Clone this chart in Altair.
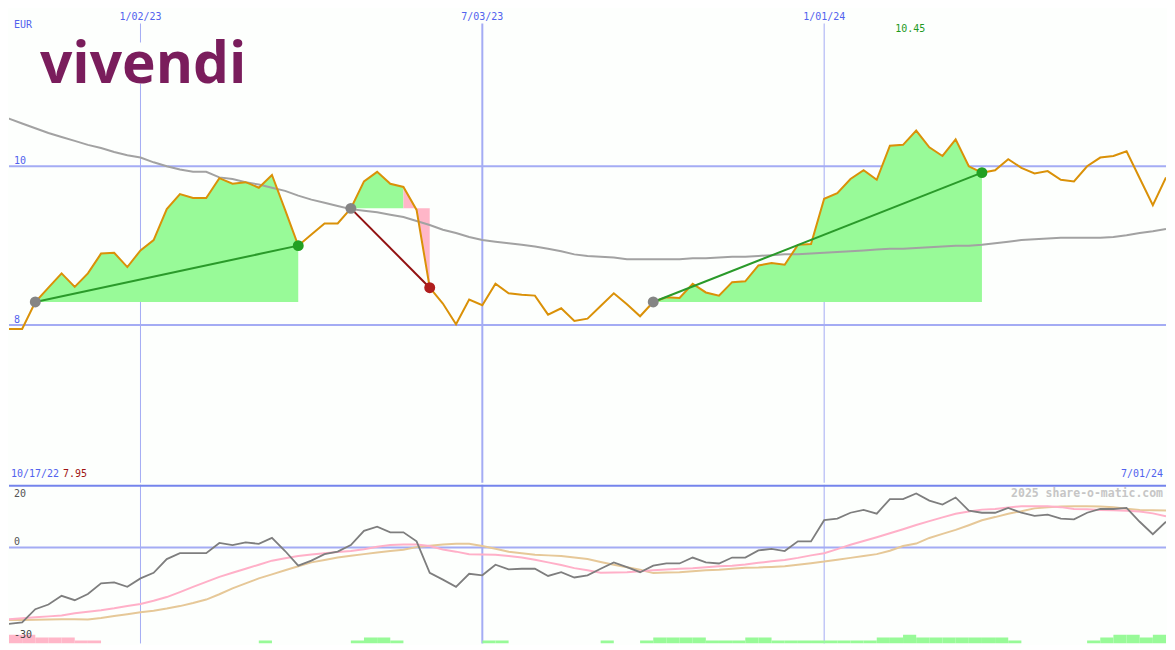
import altair as alt
import pandas as pd

W, H1, H2 = 1159, 475, 159
BG = "#FDFFFD"
GRID = "#A4ACF4"
SEP = "#7484EC"
BLUE = "#5262EE"
MONO = "DejaVu Sans Mono"

# weekly closes, week of 10/17/22 .. week of 7/01/24
week_dates = [d.strftime("%Y-%m-%d") for d in pd.date_range("2022-10-17", periods=90, freq="7D")]
week_ends = [d.strftime("%Y-%m-%d") for d in pd.date_range("2022-10-24", periods=90, freq="7D")]

price = [
    7.95, 7.95, 7.95, 8.29, 8.47, 8.65, 8.48, 8.65, 8.90, 8.91,
    8.73, 8.94, 9.07, 9.46, 9.65, 9.60, 9.60, 9.85, 9.78, 9.80,
    9.73, 9.89, 9.45, 9.00, 9.14, 9.28, 9.28, 9.47, 9.81, 9.93,
    9.78, 9.74, 9.45, 8.47, 8.27, 8.01, 8.32, 8.25, 8.52, 8.40,
    8.38, 8.37, 8.13, 8.21, 8.05, 8.08, 8.24, 8.40, 8.26, 8.11,
    8.29, 8.35, 8.34, 8.52, 8.41, 8.37, 8.54, 8.55, 8.75, 8.78,
    8.76, 9.01, 9.02, 9.59, 9.66, 9.84, 9.95, 9.83, 10.26, 10.27,
    10.45, 10.24, 10.13, 10.34, 10.00, 9.92, 9.95, 10.09, 9.98, 9.91,
    9.94, 9.83, 9.81, 10.00, 10.11, 10.13, 10.19, 9.85, 9.51, 9.86,
]

slow_ma = [
    10.66, 10.60, 10.54, 10.48, 10.42, 10.37, 10.32, 10.27, 10.23, 10.18,
    10.14, 10.11, 10.05, 10.00, 9.96, 9.93, 9.93, 9.86, 9.84, 9.80,
    9.77, 9.73, 9.69, 9.63, 9.58, 9.54, 9.50, 9.46, 9.44, 9.42,
    9.39, 9.36, 9.31, 9.26, 9.20, 9.16, 9.11, 9.07, 9.05, 9.03,
    9.01, 8.99, 8.96, 8.93, 8.89, 8.87, 8.86, 8.85, 8.83, 8.83,
    8.83, 8.83, 8.83, 8.84, 8.84, 8.85, 8.86, 8.86, 8.87, 8.88,
    8.89, 8.89, 8.90, 8.91, 8.92, 8.93, 8.94, 8.95, 8.96, 8.96,
    8.97, 8.98, 8.99, 9.00, 9.00, 9.01, 9.03, 9.05, 9.07, 9.08,
    9.09, 9.10, 9.10, 9.10, 9.10, 9.11, 9.13, 9.16, 9.18, 9.21,
]

osc_gray = [
    -25.0, -24.5, -24.0, -19.8, -18.3, -15.5, -16.9, -14.9, -11.5, -11.2,
    -12.6, -9.9, -8.1, -3.7, -1.8, -1.8, -1.8, 1.5, 0.8, 1.7,
    1.2, 3.1, -1.1, -5.8, -4.2, -2.1, -1.3, 0.8, 5.4, 6.7,
    4.9, 4.9, 2.0, -8.1, -10.3, -12.6, -8.4, -8.9, -5.5, -7.0,
    -6.8, -6.8, -9.1, -7.9, -9.6, -8.9, -6.8, -4.75, -6.3, -7.9,
    -5.8, -5.1, -5.1, -3.2, -4.75, -5.1, -3.2, -3.2, -0.9, -0.4,
    -1.1, 2.0, 2.0, 8.8, 9.3, 11.2, 12.1, 10.9, 15.6, 15.6,
    17.4, 15.1, 13.8, 16.1, 11.9, 11.2, 11.2, 12.75, 11.2, 10.2,
    10.6, 9.3, 9.1, 11.2, 12.4, 12.4, 12.75, 8.3, 4.3, 8.3,
]

osc_pink = [
    -23.2, -23.0, -22.7, -22.4, -22.1, -21.8, -21.1, -20.6, -20.1, -19.5,
    -18.8, -18.1, -17.1, -15.9, -14.3, -12.6, -11.0, -9.4, -8.1, -6.8,
    -5.5, -4.2, -3.4, -2.7, -2.2, -1.8, -1.4, -1.1, -0.5, 0.3,
    0.8, 1.0, 1.0, 0.5, -0.6, -1.3, -2.1, -2.2, -2.3, -2.7,
    -3.2, -3.9, -4.75, -5.6, -6.6, -7.3, -8.1, -8.0, -7.9, -7.6,
    -7.3, -7.0, -6.8, -6.6, -6.3, -6.0, -5.8, -5.4, -4.9, -4.4,
    -4.0, -3.3, -2.5, -1.8, -0.5, 0.9, 2.1, 3.3, 4.6, 5.9,
    7.25, 8.5, 9.7, 10.9, 11.6, 12.2, 12.4, 12.9, 13.3, 13.3,
    13.3, 13.0, 12.4, 12.3, 12.1, 12.0, 11.8, 11.6, 11.0, 10.1,
]

osc_tan = [
    -23.4, -23.3, -23.3, -23.2, -23.1, -23.0, -23.0, -23.1, -22.6, -22.0,
    -21.4, -20.8, -20.3, -19.6, -18.8, -17.8, -16.7, -15.0, -13.1, -11.5,
    -9.9, -8.6, -7.3, -6.0, -4.75, -4.0, -3.2, -2.6, -2.1, -1.6,
    -1.1, -0.7, 0.15, 0.6, 1.0, 1.2, 1.2, 0.5, -0.4, -1.3,
    -1.8, -2.3, -2.5, -2.7, -3.2, -3.7, -4.6, -5.5, -6.3, -7.1,
    -8.2, -8.0, -7.9, -7.6, -7.3, -7.1, -6.8, -6.5, -6.4, -6.2,
    -6.0, -5.5, -5.0, -4.5, -3.9, -3.3, -2.7, -2.1, -1.0, 0.5,
    1.3, 3.1, 4.4, 5.7, 7.2, 8.8, 9.8, 10.9, 11.7, 12.6,
    13.0, 13.2, 13.3, 13.3, 13.2, 13.0, 12.5, 12.1, 12.0, 11.9,
]

hist = [
    -3, -3, -3, -2, -2, -2, -1, -1, 0, 0,
    0, 0, 0, 0, 0, 0, 0, 0, 0, 0,
    1, 0, 0, 0, 0, 0, 0, 1, 2, 2,
    1, 0, 0, 0, 0, 0, 0, 1, 1, 0,
    0, 0, 0, 0, 0, 0, 1, 0, 0, 1,
    2, 2, 2, 2, 1, 1, 1, 2, 2, 1,
    1, 1, 1, 1, 1, 1, 1, 2, 2, 3,
    2, 2, 2, 2, 2, 2, 2, 1, 0, 0,
    0, 0, 0, 1, 2, 3, 3, 2, 3, 3,
]

# trades: indices into week_dates
trades = [
    {"entry": 3, "exit": 23, "result": "win"},
    {"entry": 27, "exit": 33, "result": "loss"},
    {"entry": 50, "exit": 75, "result": "win"},
]
# shaded segments: (from, to, colour, index of entry week)
fill_segments = [
    (3, 23, "#98FA98", 3),
    (27, 31, "#98FA98", 27),
    (31, 33, "#FFB6C8", 27),
    (50, 75, "#98FA98", 50),
]

grid_dates = ["2023-01-02", "2023-07-03", "2024-01-01"]
grid_labels = ["1/02/23", "7/03/23", "1/01/24"]
grid_widths = [1, 2, 1]
price_levels = [10, 8]
high_label = "10.45"
high_index = 70
start_label = "10/17/22"
low_label = "7.95"
end_label = "7/01/24"
osc_labels = ["20", "0", "-30"]
watermark = "2025 share-o-matic.com"

assert all(len(a) == 90 for a in [price, slow_ma, osc_gray, osc_pink, osc_tan, hist])

x_domain = [pd.Timestamp("2022-10-24").value // 10**6, pd.Timestamp("2024-07-01").value // 10**6]
xscale = alt.Scale(domain=x_domain, nice=False)
pscale = alt.Scale(domain=[6.012, 11.988], zero=False, nice=False)
oscale = alt.Scale(domain=[-30.8, 20.2], zero=False, nice=False)
hscale = alt.Scale(domain=[0, 54.33], zero=False, nice=False)

X = alt.X("date:T", scale=xscale, axis=None)
Yp = alt.Y("price:Q", scale=pscale, axis=None, stack=None)

price_df = pd.DataFrame({"date": week_dates, "price": price, "ma": slow_ma})
vgrid_df = pd.DataFrame({"date": grid_dates, "label": grid_labels, "w": grid_widths})
hgrid_df = pd.DataFrame({"price": price_levels, "label": [str(v) for v in price_levels]})

rows = []
for seg_id, (i0, i1, fillc, base_i) in enumerate(fill_segments):
    for i in range(i0, i1 + 1):
        rows.append({"date": week_dates[i], "price": price[i], "base": price[base_i],
                     "seg": seg_id, "fillc": fillc})
fill_df = pd.DataFrame(rows)

line_col = {"win": "#2A9A2A", "loss": "#921212"}
dot_col = {"win": "#22A022", "loss": "#B01E1E"}
tl_rows, dot_rows = [], []
for t_id, t in enumerate(trades):
    for i in (t["entry"], t["exit"]):
        tl_rows.append({"date": week_dates[i], "price": price[i], "trade": t_id, "lc": line_col[t["result"]]})
    dot_rows.append({"date": week_dates[t["entry"]], "price": price[t["entry"]], "dc": "#858585"})
    dot_rows.append({"date": week_dates[t["exit"]], "price": price[t["exit"]], "dc": dot_col[t["result"]]})
tl_df = pd.DataFrame(tl_rows)
dot_df = pd.DataFrame(dot_rows)


def txt(s):
    return pd.DataFrame({"t": [s]})


vrule_top = alt.Chart(vgrid_df).mark_rule(color=GRID).encode(
    x=X, y=alt.value(15), y2=alt.value(H1), strokeWidth=alt.StrokeWidth("w:Q", scale=None))
hrule_top = alt.Chart(hgrid_df).mark_rule(color=GRID, strokeWidth=2).encode(
    y=Yp, x=alt.value(0), x2=alt.value(W))
logo_box = alt.Chart(pd.DataFrame({"x0": ["2022-11-10"], "x1": ["2023-02-24"],
                                   "y0": [11.04], "y1": [11.56]})).mark_rect(color=BG).encode(
    x=alt.X("x0:T", scale=xscale, axis=None), x2="x1:T",
    y=alt.Y("y0:Q", scale=pscale, axis=None), y2="y1:Q")
fills = alt.Chart(fill_df).mark_area(opacity=1, clip=True).encode(
    x=X, y=Yp, y2="base:Q", detail="seg:N", color=alt.Color("fillc:N", scale=None))
ma_line = alt.Chart(price_df).mark_line(color="#A2A2A2", strokeWidth=2, clip=True).encode(
    x=X, y=alt.Y("ma:Q", scale=pscale, axis=None))
price_line = alt.Chart(price_df).mark_line(color="#DA9108", strokeWidth=2, clip=True).encode(x=X, y=Yp)
trade_lines = alt.Chart(tl_df).mark_line(strokeWidth=2).encode(
    x=X, y=Yp, detail="trade:N", color=alt.Color("lc:N", scale=None))
dots = alt.Chart(dot_df).mark_circle(size=120, opacity=1).encode(
    x=X, y=Yp, color=alt.Color("dc:N", scale=None))

date_text = alt.Chart(vgrid_df).mark_text(font=MONO, fontSize=10, color=BLUE).encode(
    x=X, y=alt.value(8), text="label:N")
level_text = alt.Chart(hgrid_df).mark_text(font=MONO, fontSize=10, color=BLUE, align="left",
                                           baseline="alphabetic", dy=-2).encode(
    x=alt.value(5), y=Yp, text="label:N")
eur_text = alt.Chart(txt("EUR")).mark_text(font=MONO, fontSize=10, color=BLUE, align="left").encode(
    x=alt.value(5), y=alt.value(16.5), text="t:N")
high_text = alt.Chart(pd.DataFrame({"date": [week_dates[high_index]], "t": [high_label]})).mark_text(
    font=MONO, fontSize=10, color="#1E9A1E", dx=-6).encode(x=X, y=alt.value(20.5), text="t:N")
start_text = alt.Chart(txt(start_label)).mark_text(font=MONO, fontSize=10, color=BLUE, align="left").encode(
    x=alt.value(2), y=alt.value(466), text="t:N")
low_text = alt.Chart(txt(low_label)).mark_text(font=MONO, fontSize=10, color="#A01414", align="left").encode(
    x=alt.value(54), y=alt.value(466), text="t:N")
end_text = alt.Chart(txt(end_label)).mark_text(font=MONO, fontSize=10, color=BLUE, align="right").encode(
    x=alt.value(W - 3), y=alt.value(466), text="t:N")
logo = alt.Chart(txt("vivendi")).mark_text(font="Open Sans", fontSize=57, fontWeight="bold", color="#7A1D5C",
                                           align="left", baseline="alphabetic").encode(
    x=alt.value(31), y=alt.value(75), text="t:N")

top = alt.layer(vrule_top, hrule_top, logo_box, fills, ma_line, price_line, trade_lines, dots,
                date_text, level_text, eur_text, high_text, start_text, low_text, end_text, logo
                ).properties(width=W, height=H1)

# ---- lower panel
osc_df = pd.DataFrame({"date": week_dates, "gray": osc_gray, "pink": osc_pink, "tan": osc_tan})
hist_rows = [{"date": week_dates[i], "date_end": week_ends[i], "lvl": abs(v), "zero": 0,
              "hc": "#98FA98" if v > 0 else "#FFB6C8"} for i, v in enumerate(hist) if v != 0]
hist_df = pd.DataFrame(hist_rows)

vrule_low = alt.Chart(vgrid_df).mark_rule(color=GRID).encode(
    x=X, y=alt.value(0), y2=alt.value(H2), strokeWidth=alt.StrokeWidth("w:Q", scale=None))
zero_rule = alt.Chart(pd.DataFrame({"v": [0]})).mark_rule(color=GRID, strokeWidth=2).encode(
    y=alt.Y("v:Q", scale=oscale, axis=None), x=alt.value(0), x2=alt.value(W))
sep_rule = alt.Chart(txt("sep")).mark_rule(color=SEP, strokeWidth=2).encode(
    y=alt.value(1), x=alt.value(0), x2=alt.value(W))
bars = alt.Chart(hist_df).mark_rect(clip=True).encode(
    x=alt.X("date:T", scale=xscale, axis=None), x2="date_end:T",
    y=alt.Y("lvl:Q", scale=hscale, axis=None), y2="zero:Q", color=alt.Color("hc:N", scale=None))
tan_line = alt.Chart(osc_df).mark_line(color="#E6C898", strokeWidth=2, clip=True).encode(
    x=X, y=alt.Y("tan:Q", scale=oscale, axis=None))
pink_line = alt.Chart(osc_df).mark_line(color="#FFB0C8", strokeWidth=2, clip=True).encode(
    x=X, y=alt.Y("pink:Q", scale=oscale, axis=None))
gray_line = alt.Chart(osc_df).mark_line(color="#7E7E7E", strokeWidth=1.8, clip=True).encode(
    x=X, y=alt.Y("gray:Q", scale=oscale, axis=None))

lab20 = alt.Chart(txt(osc_labels[0])).mark_text(font=MONO, fontSize=10, color="#555555", align="left").encode(
    x=alt.value(5), y=alt.value(8.8), text="t:N")
lab0 = alt.Chart(pd.DataFrame({"v": [0], "t": [osc_labels[1]]})).mark_text(
    font=MONO, fontSize=10, color="#555555", align="left", baseline="alphabetic", dy=-3).encode(
    x=alt.value(5), y=alt.Y("v:Q", scale=oscale, axis=None), text="t:N")
lab30 = alt.Chart(txt(osc_labels[2])).mark_text(font=MONO, fontSize=10, color="#444444", align="left").encode(
    x=alt.value(5), y=alt.value(151), text="t:N")
wm = alt.Chart(txt(watermark)).mark_text(font=MONO, fontSize=11.5, fontWeight="bold", color="#C6C6C6",
                                         align="right").encode(
    x=alt.value(W - 3), y=alt.value(8.8), text="t:N")

lower = alt.layer(vrule_low, zero_rule, bars, tan_line, pink_line, gray_line, sep_rule,
                  lab20, lab0, lab30, wm).resolve_scale(y="independent").properties(width=W, height=H2)

chart = alt.vconcat(top, lower, spacing=0).properties(padding=0, background=BG).configure_view(stroke=None)

chart.save("out.html", embed_options={"renderer": "svg", "actions": False})
